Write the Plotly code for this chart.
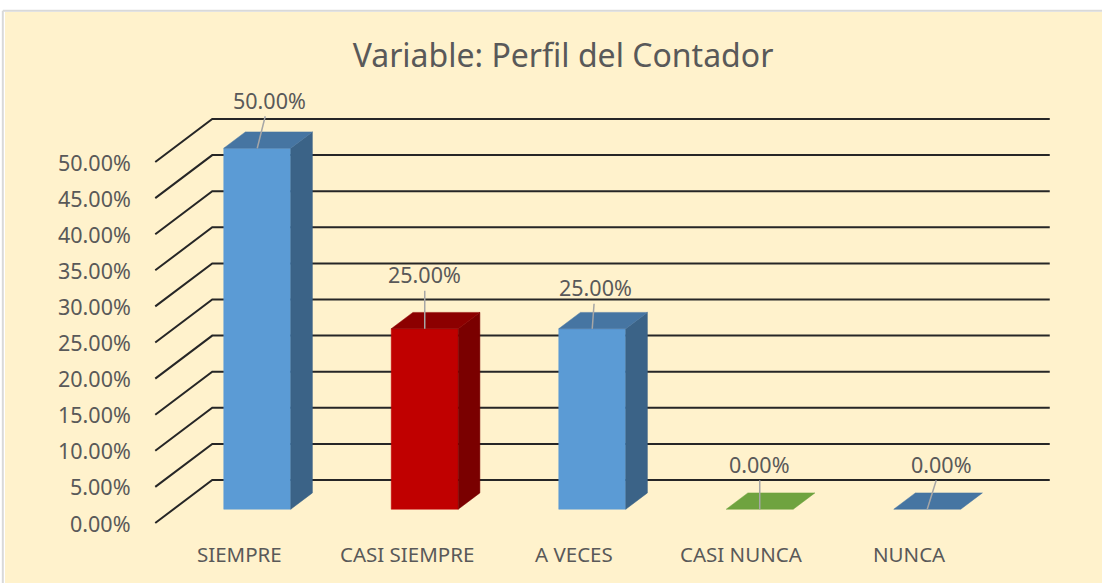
import plotly.graph_objects as go

# === Data ===
categories = ["SIEMPRE", "CASI SIEMPRE", "A VECES", "CASI NUNCA", "NUNCA"]
values = [50.0, 25.0, 25.0, 0.0, 0.0]  # percent
y_ticks = [0, 5, 10, 15, 20, 25, 30, 35, 40, 45, 50]
y_tick_labels = ["0.00%", "5.00%", "10.00%", "15.00%", "20.00%", "25.00%",
                 "30.00%", "35.00%", "40.00%", "45.00%", "50.00%"]

# === Style ===
# (front, side, top) colours per bar
bar_colors = [
    ("#5B9BD5", "#3B6387", "#4675A2"),
    ("#C00000", "#7A0000", "#8C0000"),
    ("#5B9BD5", "#3B6387", "#4675A2"),
    ("#70AD47", "#4A7530", "#6FA33F"),
    ("#5B9BD5", "#3B6387", "#4675A2"),
]
# data label offsets (px) relative to the front-top centre of each bar
label_offsets = [(12, -48), (0, -54), (3, -41), (0, -45), (14, -45)]

BG = "#FFF2CC"
TEXT = "#595959"
GRID = "#262626"
FONT = "Noto Sans"

# pixel mapping of the plot area
W, H = 1102, 583
L, T = 5, 12
X0_PX, CAT_PX = 239, 167.5     # front-plane x of category 0, px per category
Y0_PX, PCT_PX = 523, 7.22      # front-plane y of 0%, px per percent

# depth of the 3d box (front wall -> back wall) in data units
DX = 57 / CAT_PX
DY = 43 / PCT_PX
T0, T1 = 0.32, 0.70            # bar front / back depth fraction
BAR_W = 0.40


def proj(x, y, t):
    return x + t * DX, y + t * DY


fig = go.Figure()

# --- back wall and left wall gridlines ---
gx, gy = [], []
for v in y_ticks:
    a = proj(-0.5, v, 0)
    b = proj(-0.5, v, 1)
    c = proj(len(categories) - 0.5, v, 1)
    gx += [a[0], b[0], c[0], None]
    gy += [a[1], b[1], c[1], None]
fig.add_trace(go.Scatter(x=gx, y=gy, mode="lines",
                         line=dict(color=GRID, width=2),
                         hoverinfo="skip", showlegend=False))

# --- 3d bars: front, side and top faces ---
for i, (cat, v) in enumerate(zip(categories, values)):
    front_c, side_c, top_c = bar_colors[i]
    xl, xr = i - BAR_W / 2, i + BAR_W / 2
    faces = [
        ([(xl, 0, T0), (xr, 0, T0), (xr, v, T0), (xl, v, T0)], front_c),
        ([(xr, 0, T0), (xr, 0, T1), (xr, v, T1), (xr, v, T0)], side_c),
        ([(xl, v, T0), (xr, v, T0), (xr, v, T1), (xl, v, T1)], top_c),
    ]
    for pts, col in faces:
        if v == 0 and col != top_c:
            continue
        px = [proj(*p)[0] for p in pts] + [proj(*pts[0])[0]]
        py = [proj(*p)[1] for p in pts] + [proj(*pts[0])[1]]
        fig.add_trace(go.Scatter(x=px, y=py, mode="lines", fill="toself",
                                 fillcolor=col, line=dict(color=col, width=0.5),
                                 name=cat, hoverinfo="name", showlegend=False))

# --- data labels with leader lines ---
for i, v in enumerate(values):
    x, y = proj(i, v, T0)
    ox, oy = label_offsets[i]
    fig.add_annotation(x=x, y=y, text=f"{v:.2f}%", showarrow=True,
                       ax=ox, ay=oy, arrowhead=0, arrowwidth=1.5,
                       arrowcolor="#A6A6A6", standoff=0, startstandoff=0,
                       font=dict(family=FONT, size=21.5, color=TEXT))

# --- value axis labels (front plane) ---
for v, lab in zip(y_ticks, y_tick_labels):
    fig.add_annotation(x=-0.5, y=v, text=lab, showarrow=False,
                       xanchor="right", yanchor="middle", xshift=-22,
                       font=dict(family=FONT, size=21.5, color=TEXT))

# --- category labels ---
for i, cat in enumerate(categories):
    fig.add_annotation(x=i, y=-31 / PCT_PX, text=cat, showarrow=False,
                       xanchor="center", yanchor="middle",
                       font=dict(family=FONT, size=20.5, color=TEXT))

x_range = [(L - X0_PX) / CAT_PX, (W - X0_PX) / CAT_PX]
y_range = [(Y0_PX - H) / PCT_PX, (Y0_PX - T) / PCT_PX]

fig.update_layout(
    width=W, height=H,
    margin=dict(l=L, r=0, t=T, b=0),
    paper_bgcolor="white",
    plot_bgcolor=BG,
    title=dict(text="Variable: Perfil del Contador",
               font=dict(family=FONT, size=32, color=TEXT),
               x=(563 - L) / (W - L), xref="paper", xanchor="center",
               y=1 - 56 / H, yanchor="middle"),
    xaxis=dict(range=x_range, visible=False, fixedrange=True),
    yaxis=dict(range=y_range, visible=False, fixedrange=True),
    showlegend=False,
)

# thin grey border of the chart area
fig.add_shape(type="line", xref="paper", yref="paper",
              x0=-0.002, x1=1, y0=1.002, y1=1.002,
              line=dict(color="#D9D9D9", width=2))
fig.add_shape(type="line", xref="paper", yref="paper",
              x0=-0.002, x1=-0.002, y0=0, y1=1.002,
              line=dict(color="#D9D9D9", width=2))

# page body has an 8px default margin; drop it so the figure sits at 0,0
fig.write_html("out.html", config={"displayModeBar": False},
               post_script="document.body.style.margin='0';")
